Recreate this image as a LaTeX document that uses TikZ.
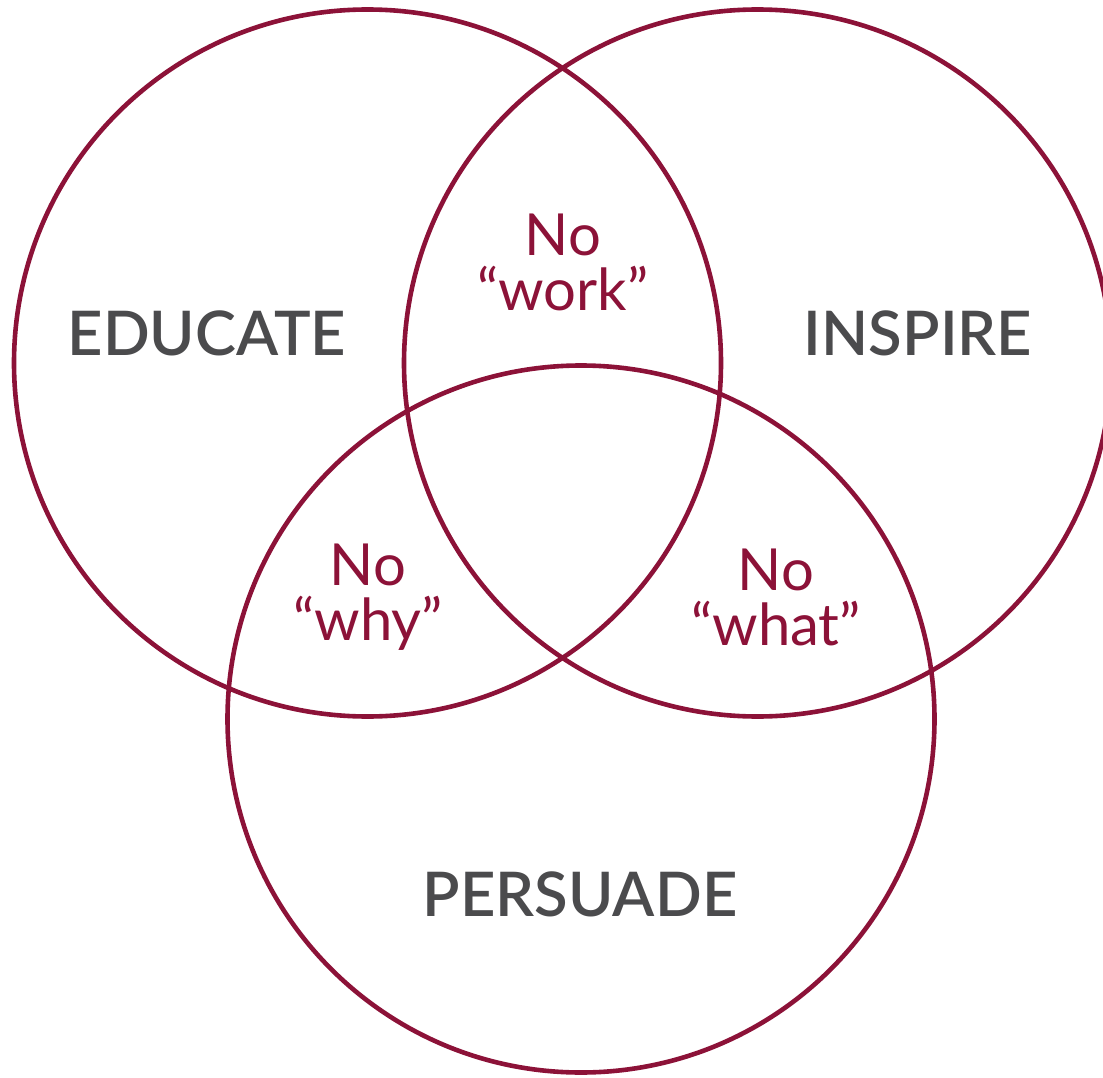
\documentclass[tikz,border=0pt]{standalone}
\usepackage{fontspec}
\setmainfont{Lato}
\newfontfamily\heavylato{Lato Semibold}
\definecolor{venn}{HTML}{8C1238}
\definecolor{ink}{HTML}{4B4B4D}
\begin{document}
\begin{tikzpicture}[x=1pt,y=-1pt,
  ring/.style={draw=venn,line width=4.6pt,circle,minimum size=707pt,inner sep=0pt},
  setlabel/.style={text=ink,font=\heavylato\fontsize{61.5}{61.5}\selectfont},
  overlap/.style={text=venn,align=center,font=\fontsize{58}{55}\selectfont}]
  \useasboundingbox (0,0) rectangle (1103,1078);
  % the three sets
  \node[ring] (edu) at (367.5,363) {};
  \node[ring] (ins) at (757.5,363) {};
  \node[ring] (per) at (581,719) {};
  % set names
  \node[setlabel] (eduT) at (207,333) {EDUCATE};
  \node[setlabel] (insT) at (918,333) {INSPIRE};
  \node[setlabel] (perT) at (580,894) {PERSUADE};
  % pairwise overlaps
  \node[overlap] (work) at (563,262) {No\\“work”};
  \node[overlap] (why) at (368,597) {No\\“why”};
  \node[overlap] (what) at (776,597) {No\\“what”};
\end{tikzpicture}
\end{document}
